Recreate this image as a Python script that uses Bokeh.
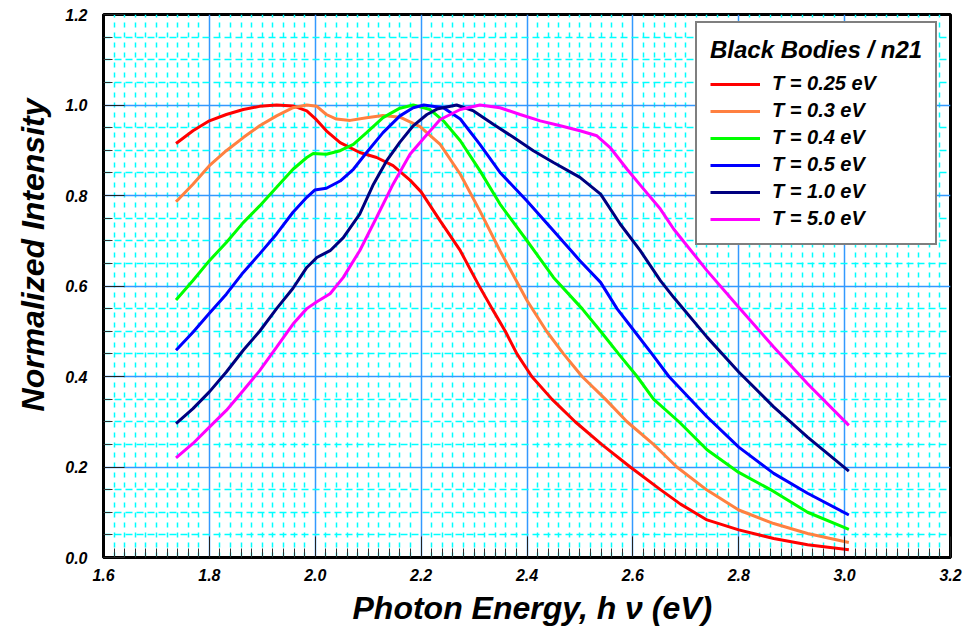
import numpy as np
from bokeh.plotting import figure
from bokeh.models import Range1d, FixedTicker, PrintfTickFormatter, Legend, LegendItem, Title
from bokeh.embed import file_html
from bokeh.resources import INLINE

# ---- data ----
x_r = [1.737, 1.769, 1.80, 1.832, 1.864, 1.895, 1.927, 1.958, 1.984, 2.0, 2.021, 2.047, 2.084, 2.116,
       2.147, 2.179, 2.2, 2.236, 2.274, 2.311, 2.334, 2.359, 2.381, 2.409, 2.447, 2.491, 2.541, 2.595,
       2.652, 2.69, 2.74, 2.80, 2.866, 2.93, 3.008]
y_r = [0.915, 0.943, 0.965, 0.979, 0.990, 0.997, 1.0, 0.998, 0.987, 0.970, 0.943, 0.917, 0.895, 0.884,
       0.866, 0.834, 0.808, 0.744, 0.678, 0.597, 0.550, 0.500, 0.450, 0.400, 0.350, 0.300, 0.250, 0.200,
       0.150, 0.118, 0.083, 0.061, 0.042, 0.028, 0.017]

x_o = [1.737, 1.769, 1.80, 1.832, 1.864, 1.895, 1.927, 1.958, 1.984, 2.003, 2.021, 2.040, 2.066, 2.097,
       2.128, 2.16, 2.198, 2.236, 2.274, 2.311, 2.349, 2.40, 2.437, 2.469, 2.504, 2.548, 2.589, 2.639,
       2.683, 2.74, 2.80, 2.866, 2.93, 3.008]
y_o = [0.786, 0.825, 0.866, 0.899, 0.928, 0.954, 0.976, 0.994, 1.0, 0.997, 0.979, 0.969, 0.966, 0.972,
       0.977, 0.973, 0.952, 0.913, 0.847, 0.766, 0.678, 0.568, 0.500, 0.450, 0.400, 0.350, 0.300, 0.250,
       0.200, 0.149, 0.105, 0.075, 0.053, 0.033]

x_g = [1.737, 1.769, 1.80, 1.832, 1.864, 1.895, 1.927, 1.958, 1.984, 1.996, 2.021, 2.047, 2.072, 2.097,
       2.128, 2.16, 2.185, 2.217, 2.242, 2.274, 2.311, 2.349, 2.40, 2.45, 2.504, 2.539, 2.573, 2.608,
       2.639, 2.687, 2.74, 2.80, 2.866, 2.93, 3.008]
y_g = [0.569, 0.612, 0.656, 0.696, 0.740, 0.777, 0.818, 0.858, 0.884, 0.893, 0.891, 0.899, 0.913, 0.939,
       0.972, 0.993, 1.0, 0.990, 0.965, 0.921, 0.855, 0.781, 0.700, 0.619, 0.550, 0.500, 0.450, 0.400,
       0.350, 0.300, 0.238, 0.188, 0.146, 0.100, 0.062]

x_b = [1.737, 1.769, 1.80, 1.832, 1.864, 1.895, 1.927, 1.958, 1.984, 1.999, 2.021, 2.047, 2.072, 2.097,
       2.128, 2.16, 2.185, 2.205, 2.242, 2.274, 2.311, 2.349, 2.40, 2.45, 2.50, 2.539, 2.570, 2.603, 2.636,
       2.668, 2.74, 2.80, 2.866, 2.93, 3.008]
y_b = [0.458, 0.498, 0.540, 0.582, 0.630, 0.671, 0.715, 0.763, 0.796, 0.812, 0.816, 0.832, 0.858, 0.895,
       0.939, 0.976, 0.994, 1.0, 0.994, 0.969, 0.913, 0.851, 0.788, 0.722, 0.656, 0.608, 0.550, 0.500,
       0.450, 0.400, 0.311, 0.244, 0.186, 0.142, 0.094]

x_n = [1.737, 1.769, 1.80, 1.832, 1.864, 1.895, 1.927, 1.958, 1.984, 2.003, 2.028, 2.053, 2.084, 2.110,
       2.135, 2.16, 2.185, 2.211, 2.23, 2.267, 2.299, 2.337, 2.375, 2.412, 2.45, 2.50, 2.539, 2.576, 2.614,
       2.652, 2.677, 2.74, 2.80, 2.866, 2.93, 3.008]
y_n = [0.296, 0.329, 0.366, 0.410, 0.458, 0.500, 0.550, 0.595, 0.641, 0.663, 0.678, 0.707, 0.759, 0.825,
       0.877, 0.918, 0.954, 0.979, 0.991, 1.0, 0.987, 0.957, 0.928, 0.899, 0.873, 0.840, 0.803, 0.737,
       0.678, 0.612, 0.575, 0.487, 0.410, 0.333, 0.266, 0.191]

x_m = [1.737, 1.769, 1.80, 1.832, 1.864, 1.895, 1.927, 1.958, 1.984, 2.003, 2.028, 2.053, 2.084, 2.116,
       2.147, 2.179, 2.211, 2.236, 2.274, 2.311, 2.349, 2.387, 2.425, 2.463, 2.50, 2.532, 2.557, 2.589,
       2.614, 2.652, 2.677, 2.74, 2.80, 2.866, 2.93, 3.008]
y_m = [0.220, 0.252, 0.288, 0.325, 0.369, 0.413, 0.465, 0.516, 0.550, 0.565, 0.583, 0.619, 0.678, 0.752,
       0.825, 0.891, 0.935, 0.968, 0.990, 1.0, 0.994, 0.979, 0.965, 0.954, 0.943, 0.932, 0.906, 0.858,
       0.823, 0.770, 0.726, 0.634, 0.553, 0.465, 0.384, 0.292]

labels = ["T = 0.25 eV", "T = 0.3 eV", "T = 0.4 eV", "T = 0.5 eV", "T = 1.0 eV", "T = 5.0 eV"]
colors = ["#FF0000", "#FF8040", "#00FF00", "#0000FF", "#000080", "#FF00FF"]
series = [(x_r, y_r), (x_o, y_o), (x_g, y_g), (x_b, y_b), (x_n, y_n), (x_m, y_m)]

x_ticks = [1.6, 1.8, 2.0, 2.2, 2.4, 2.6, 2.8, 3.0, 3.2]
y_ticks = [0.0, 0.2, 0.4, 0.6, 0.8, 1.0, 1.2]

legend_title = "Black Bodies / n21"
x_title = "Photon Energy, h \u03bd (eV)"
y_title = "Normalized Intensity"

FONT = "Liberation Sans"

x_minor = [round(v, 3) for v in np.arange(1.6, 3.2001, 0.02) if min(abs(v - t) for t in x_ticks) > 1e-6]
y_minor = [round(v, 3) for v in np.arange(0.0, 1.2001, 0.05) if min(abs(v - t) for t in y_ticks) > 1e-6]

p = figure(width=964, height=638, x_range=Range1d(1.6, 3.2), y_range=Range1d(0.0, 1.2),
           output_backend="svg", toolbar_location=None,
           min_border_left=103, min_border_right=14, min_border_top=14, min_border_bottom=81)
p.background_fill_color = "white"
p.border_fill_color = "white"
p.outline_line_color = "black"
p.outline_line_width = 3

p.xaxis.ticker = FixedTicker(ticks=x_ticks, minor_ticks=x_minor)
p.yaxis.ticker = FixedTicker(ticks=y_ticks, minor_ticks=y_minor)
for ax in (p.xaxis, p.yaxis):
    ax.formatter = PrintfTickFormatter(format="%.1f")
    ax.axis_line_width = 3
    ax.axis_line_color = "black"
    ax.major_tick_in = 21
    ax.major_tick_out = 0
    ax.minor_tick_in = 9
    ax.minor_tick_out = 0
    ax.major_tick_line_color = "#222222"
    ax.minor_tick_line_color = "#333333"
    ax.major_tick_line_width = 1
    ax.minor_tick_line_width = 1
    ax.major_label_text_font = FONT
    ax.major_label_text_font_style = "bold italic"
    ax.major_label_text_font_size = "16px"
    ax.major_label_text_color = "black"
p.xaxis.major_label_standoff = 11
p.yaxis.major_label_standoff = 16

xtitle = Title(text=x_title, align="left", offset=249, standoff=9,
               text_font=FONT, text_font_style="bold italic", text_font_size="32px",
               text_color="black")
p.add_layout(xtitle, "below")

ytitle = Title(text=y_title, align="right", offset=84, standoff=24,
               text_font=FONT, text_font_style="bold italic", text_font_size="32px",
               text_color="black")
p.add_layout(ytitle, "left")

for g in (p.xgrid, p.ygrid):
    g.grid_line_color = "#3399FF"
    g.grid_line_width = 1.5
    g.minor_grid_line_color = "#00FFFF"
    g.minor_grid_line_width = 1.5
p.xgrid.minor_grid_line_dash = "5 5"
p.ygrid.minor_grid_line_dash = "7 4"

items = []
for (xs, ys), c, lab in zip(series, colors, labels):
    r = p.line(xs, ys, line_color=c, line_width=3)
    items.append(LegendItem(label=lab, renderers=[r]))

legend = Legend(items=items, location=(592, 312), title=legend_title)
legend.title_text_font = FONT
legend.title_text_font_style = "bold italic"
legend.title_text_font_size = "24px"
legend.title_text_color = "black"
legend.title_standoff = 8
legend.label_text_font = FONT
legend.label_text_font_style = "bold italic"
legend.label_text_font_size = "20px"
legend.label_text_color = "black"
legend.glyph_width = 50
legend.glyph_height = 20
legend.label_standoff = 12
legend.spacing = 4
legend.padding = 13
legend.margin = 0
legend.border_line_color = "black"
legend.border_line_width = 2
legend.background_fill_color = "white"
legend.background_fill_alpha = 1.0
p.add_layout(legend)

open("out.html", "w").write(file_html(p, INLINE))
